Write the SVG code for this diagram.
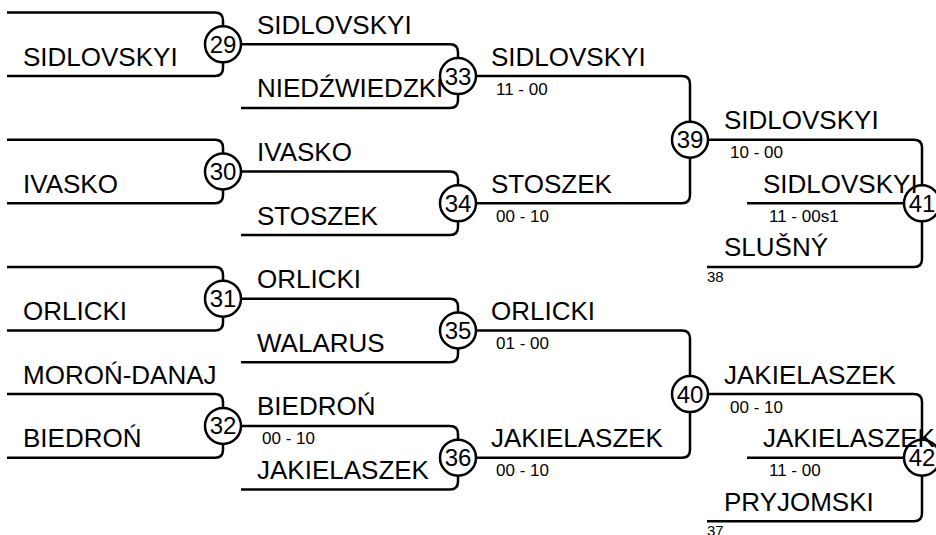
<svg xmlns="http://www.w3.org/2000/svg" width="936" height="535" viewBox="0 0 936 535">
<style>
.ln{fill:none;stroke:#000;stroke-width:2.5}
.nd circle{fill:#fff;stroke:#000;stroke-width:2.5}
.num{font-family:"Liberation Sans",Arial,sans-serif;font-size:24px;fill:#000;text-anchor:middle}
.nm{font-family:"Liberation Sans",Arial,sans-serif;font-size:26px;fill:#000}
.sc{font-family:"Liberation Sans",Arial,sans-serif;font-size:17px;fill:#000}
.sm{font-family:"Liberation Sans",Arial,sans-serif;font-size:15px;fill:#000}
</style>
<rect width="936" height="535" fill="#fff"/>
<g id="connectors" class="ln">
<path d="M7,12.5 H215 Q223,12.5 223,20.5 V68.1 Q223,76.1 215,76.1 H7"/>
<path d="M7,139.7 H215 Q223,139.7 223,147.7 V195.3 Q223,203.3 215,203.3 H7"/>
<path d="M7,266.9 H215 Q223,266.9 223,274.9 V322.5 Q223,330.5 215,330.5 H7"/>
<path d="M7,394.1 H215 Q223,394.1 223,402.1 V449.7 Q223,457.7 215,457.7 H7"/>
<path d="M241,44.3 H450 Q458,44.3 458,52.3 V99.9 Q458,107.9 450,107.9 H241"/>
<path d="M241,171.5 H450 Q458,171.5 458,179.5 V227.1 Q458,235.1 450,235.1 H241"/>
<path d="M241,298.7 H450 Q458,298.7 458,306.7 V354.3 Q458,362.3 450,362.3 H241"/>
<path d="M241,425.9 H450 Q458,425.9 458,433.9 V481.5 Q458,489.5 450,489.5 H241"/>
<path d="M476,76.1 H682 Q690,76.1 690,84.1 V195.3 Q690,203.3 682,203.3 H476"/>
<path d="M476,330.5 H682 Q690,330.5 690,338.5 V449.7 Q690,457.7 682,457.7 H476"/>
<path d="M708,139.7 H914 Q922,139.7 922,147.7 V258.9 Q922,266.9 914,266.9 H707"/>
<path d="M747,203.3 H922"/>
<path d="M708,394.1 H914 Q922,394.1 922,402.1 V513.3 Q922,521.3 914,521.3 H707"/>
<path d="M747,457.7 H922"/>
</g>
<g id="m29" class="nd"><circle cx="223" cy="44.3" r="18"/><text class="num" x="223" y="52.8">29</text></g>
<g id="m30" class="nd"><circle cx="223" cy="171.5" r="18"/><text class="num" x="223" y="180">30</text></g>
<g id="m31" class="nd"><circle cx="223" cy="298.7" r="18"/><text class="num" x="223" y="307.2">31</text></g>
<g id="m32" class="nd"><circle cx="223" cy="425.9" r="18"/><text class="num" x="223" y="434.4">32</text></g>
<g id="m33" class="nd"><circle cx="458" cy="76.1" r="18"/><text class="num" x="458" y="84.6">33</text></g>
<g id="m34" class="nd"><circle cx="458" cy="203.3" r="18"/><text class="num" x="458" y="211.8">34</text></g>
<g id="m35" class="nd"><circle cx="458" cy="330.5" r="18"/><text class="num" x="458" y="339">35</text></g>
<g id="m36" class="nd"><circle cx="458" cy="457.7" r="18"/><text class="num" x="458" y="466.2">36</text></g>
<g id="m39" class="nd"><circle cx="690" cy="139.7" r="18"/><text class="num" x="690" y="148.2">39</text></g>
<g id="m40" class="nd"><circle cx="690" cy="394.1" r="18"/><text class="num" x="690" y="402.6">40</text></g>
<g id="m41" class="nd"><circle cx="922" cy="203.3" r="18"/><text class="num" x="922" y="211.8">41</text></g>
<g id="m42" class="nd"><circle cx="922" cy="457.7" r="18"/><text class="num" x="922" y="466.2">42</text></g>
<g id="labels">
<text class="nm" x="23" y="65.6">SIDLOVSKYI</text>
<text class="nm" x="23" y="192.8">IVASKO</text>
<text class="nm" x="23" y="320">ORLICKI</text>
<text class="nm" x="23" y="383.6">MOROŃ-DANAJ</text>
<text class="nm" x="23" y="447.2">BIEDROŃ</text>
<text class="nm" x="257" y="33.8">SIDLOVSKYI</text>
<text class="nm" x="257" y="97.4">NIEDŹWIEDZKI</text>
<text class="nm" x="257" y="161">IVASKO</text>
<text class="nm" x="257" y="224.6">STOSZEK</text>
<text class="nm" x="257" y="288.2">ORLICKI</text>
<text class="nm" x="257" y="351.8">WALARUS</text>
<text class="nm" x="257" y="415.4">BIEDROŃ</text>
<text class="nm" x="257" y="479">JAKIELASZEK</text>
<text class="nm" x="491" y="65.6">SIDLOVSKYI</text>
<text class="nm" x="491" y="192.8">STOSZEK</text>
<text class="nm" x="491" y="320">ORLICKI</text>
<text class="nm" x="491" y="447.2">JAKIELASZEK</text>
<text class="nm" x="724" y="129.2">SIDLOVSKYI</text>
<text class="nm" x="763" y="192.8">SIDLOVSKYI</text>
<text class="nm" x="724" y="256.4">SLUŠNÝ</text>
<text class="nm" x="724" y="383.6">JAKIELASZEK</text>
<text class="nm" x="763" y="447.2">JAKIELASZEK</text>
<text class="nm" x="724" y="510.8">PRYJOMSKI</text>
<text class="sc" x="262" y="444.4">00 - 10</text>
<text class="sc" x="496" y="94.6">11 - 00</text>
<text class="sc" x="496" y="221.8">00 - 10</text>
<text class="sc" x="496" y="349">01 - 00</text>
<text class="sc" x="496" y="476.2">00 - 10</text>
<text class="sc" x="730" y="158.2">10 - 00</text>
<text class="sc" x="769" y="221.8">11 - 00s1</text>
<text class="sc" x="730" y="412.6">00 - 10</text>
<text class="sc" x="769" y="476.2">11 - 00</text>
<text class="sm" x="707" y="281.9">38</text>
<text class="sm" x="707" y="536.3">37</text>
</g>
</svg>
